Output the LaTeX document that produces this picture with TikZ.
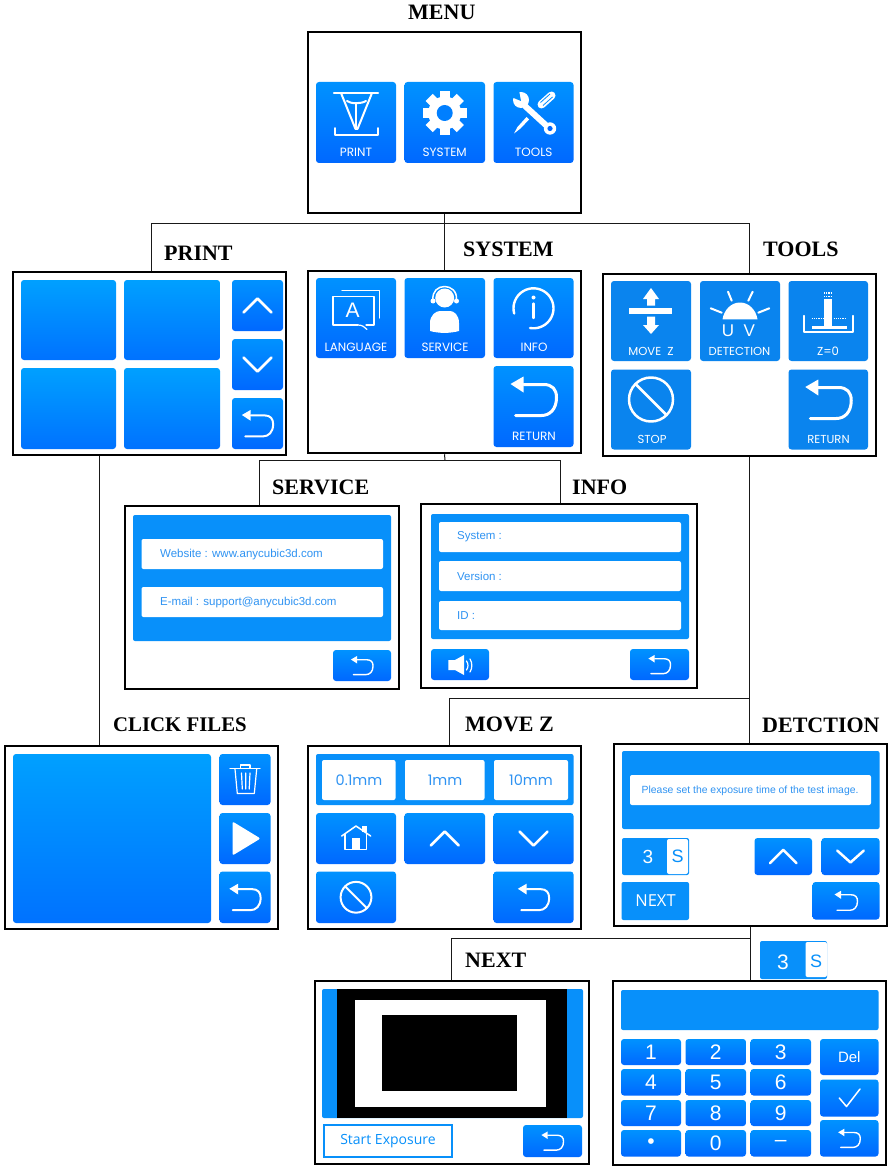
\documentclass[tikz,border=0pt]{standalone}
\usepackage{fontspec}
\setmainfont{Liberation Sans}
\newfontfamily\stepfont{Liberation Serif}
\newfontfamily\tapfont{Poppins}
\newfontfamily\winfont{Open Sans}

\definecolor{btntop}{HTML}{0092FF}
\definecolor{btnbot}{HTML}{0068FF}
\definecolor{bigtop}{HTML}{00A0FF}
\definecolor{bigbot}{HTML}{0072FF}
\definecolor{scrblue}{HTML}{0890FA}
\definecolor{toolblue}{HTML}{0A84EE}
\definecolor{fieldtxt}{HTML}{2F93F2}

\tikzset{
	screen/.style={rectangle,draw=black,line width=2.5pt,fill=white,inner sep=0pt},
	tapbtn/.style={rectangle,rounded corners=3pt,top color=btntop,bottom color=btnbot,inner sep=0pt},
	bigbtn/.style={tapbtn,top color=bigtop,bottom color=bigbot},
	toolbtn/.style={rectangle,rounded corners=3pt,fill=toolblue,inner sep=0pt},
	bluebar/.style={rectangle,rounded corners=2pt,fill=scrblue,inner sep=0pt},
	whitebar/.style={rectangle,rounded corners=2pt,fill=white,inner sep=0pt},
	keybtn/.style={tapbtn,text=white,font=\fontsize{21}{21}\selectfont},
	steplabel/.style={anchor=west,inner sep=0pt,font=\stepfont\bfseries\fontsize{22}{24}\selectfont},
	taplabel/.style={inner sep=0pt,text=white,font=\tapfont\fontsize{12}{12}\selectfont},
	toollabel/.style={taplabel,font=\tapfont\fontsize{11.6}{12}\selectfont},
	fieldlabel/.style={anchor=west,inner sep=0pt,text=fieldtxt,font=\fontsize{11.5}{12}\selectfont},
	mmlabel/.style={inner sep=0pt,text=fieldtxt,font=\tapfont\fontsize{14.5}{15}\selectfont},
	conn/.style={line width=1pt,draw=black!90},
	iconline/.style={draw=white,line width=#1,line cap=round,line join=round},
	pics/backarrow/.style={code={
		\fill[white] (-23,-12.5) -- (-10,-20) -- (-10,-4) -- cycle;
		\draw[iconline=#1] (-10,-12) -- (10,-12) .. controls (19,-12) and (23,-7) .. (23,1)
			.. controls (23,13) and (16,19) .. (8,19) -- (-18,19);
	}},
	pics/chevron/.style={code={
		\draw[iconline=2.5pt] (-14,7) -- (0,-7) -- (14,7);
	}},
	pics/stopsign/.style={code={
		\draw[iconline=#1] (0,0) circle[radius=22];
		\draw[iconline=#1] (-15.5,-15.5) -- (15.5,15.5);
	}},
}

% style, name, left, top, right, bottom, text
\newcommand{\scrbox}[7]{%
	\pgfmathsetmacro{\scrw}{#5-#3}%
	\pgfmathsetmacro{\scrh}{#6-#4}%
	\node[#1,minimum width=\scrw pt,minimum height=\scrh pt] (#2) at ({(#3+#5)/2},{(#4+#6)/2}) {#7};%
}

\begin{document}
\begin{tikzpicture}[x=1pt,y=-1pt]
	\path[use as bounding box,fill=white] (0,0) rectangle (891,1169);

	% screens
	\scrbox{screen}{menu}{308}{32}{581}{213}{}
	\scrbox{screen}{print}{13}{272}{286}{455}{}
	\scrbox{screen}{system}{308}{271}{581}{453}{}
	\scrbox{screen}{tools}{603}{274}{876}{456}{}
	\scrbox{screen}{service}{125}{506}{399}{689}{}
	\scrbox{screen}{info}{421}{504}{697}{688}{}
	\scrbox{screen}{files}{5}{746}{278}{929}{}
	\scrbox{screen}{movez}{308}{746}{581}{929}{}
	\scrbox{screen}{detect}{614}{744}{887}{926}{}
	\scrbox{screen}{next}{315}{981}{589}{1164}{}
	\scrbox{screen}{keypad}{613}{981}{886}{1165}{}

	% connectors
	\coordinate (menusplit) at (445,223);
	\coordinate (infosplit) at (445,460);
	\coordinate (zsplit) at (749,698);
	\coordinate (nextsplit) at (750,938);
	\draw[conn] (menu.south) -- (system.north);
	\draw[conn] (menusplit) -| ([xshift=1.5pt]print.north);
	\draw[conn] (menusplit) -| ([xshift=9.5pt]tools.north);
	\draw[conn] (system.south) -- (infosplit);
	\draw[conn] (infosplit) -| ([xshift=-3pt]service.north);
	\draw[conn] (infosplit) -| ([xshift=1pt]info.north);
	\draw[conn] ([xshift=-50.5pt]print.south) -- ([xshift=-42.5pt]files.north);
	\draw[conn] ([xshift=9.5pt]tools.south) -- ([xshift=-1.5pt]detect.north);
	\draw[conn] (zsplit) -| ([xshift=4.5pt]movez.north);
	\draw[conn] (detect.south) -- ([xshift=1pt]keypad.north);
	\draw[conn] (nextsplit) -| ([xshift=-1pt]next.north);

	% titles
	\node[steplabel] (menutitle) at (408,12) {MENU};
	\node[steplabel] (printtitle) at (164,253) {PRINT};
	\node[steplabel] (systemtitle) at (463,249) {SYSTEM};
	\node[steplabel] (toolstitle) at (763,249) {TOOLS};
	\node[steplabel] (servicetitle) at (272,487) {SERVICE};
	\node[steplabel] (infotitle) at (572,487) {INFO};
	\node[steplabel,font=\stepfont\bfseries\fontsize{20.8}{24}\selectfont] (filestitle) at (113,725) {CLICK FILES};
	\node[steplabel] (movetitle) at (465,724) {MOVE Z};
	\node[steplabel] (detecttitle) at (762,725) {DETCTION};
	\node[steplabel] (nexttitle) at (465,960) {NEXT};

	% MENU
	\scrbox{tapbtn}{menuprint}{316}{82}{396}{163}{}
	\scrbox{tapbtn}{menusys}{404.5}{82}{485}{163}{}
	\scrbox{tapbtn}{menutools}{493.5}{82}{573.5}{163}{}
	\node[taplabel] (menuprinttxt) at (356,152.5) {PRINT};
	\node[taplabel] (menusystxt) at (444.7,152.5) {SYSTEM};
	\node[taplabel] (menutoolstxt) at (533.7,152.5) {TOOLS};
	\draw[iconline=2.5pt] (334,93) -- (378,93);
	\draw[iconline=2pt] (341,93) -- (355.5,129) -- (357.5,129) -- (372,93);
	\draw[iconline=2pt] (347,101) .. controls (351,104) and (361,104) .. (366,101);
	\draw[iconline=1.5pt] (356,104) -- (356,129);
	\draw[iconline=1.7pt] (335,128) -- (335,135) -- (378,135) -- (378,128);
	\foreach \a in {0,45,...,315}
		\fill[white,rotate around={\a:(444.7,113)}] (439.7,91) rectangle (449.7,102);
	\fill[white] (444.7,113) circle[radius=16.5];
	\fill[btntop!55!btnbot] (444.7,113) circle[radius=8];
	\draw[iconline=6pt] (525,106) -- (549,128);
	\fill[white] (521,100) circle[radius=8];
	\fill[btntop!85!btnbot] (521,101) -- (510,96.5) -- (510,88) -- (518.5,88) -- cycle;
	\fill[white] (550,128.5) circle[radius=6.2];
	\fill[btnbot] (550,128.5) circle[radius=2.6];
	\draw[iconline=8pt] (541.5,104.5) -- (551.5,95.5);
	\draw[draw=btntop!85!btnbot,line width=.8pt] (540.5,102.5) -- (550,94) (543,105.5) -- (552.5,97);
	\fill[white] (526.5,117) -- (529,119.5) -- (520.5,128.5) -- (514,133.5) -- (517.5,127) -- cycle;

	% PRINT
	\scrbox{bigbtn}{file1}{21}{280}{116}{360}{}
	\scrbox{bigbtn}{file2}{124}{280}{220}{360}{}
	\scrbox{bigbtn}{file3}{21}{368}{116}{449}{}
	\scrbox{bigbtn}{file4}{124}{368}{220}{449}{}
	\scrbox{tapbtn}{printup}{232}{280}{283}{331}{}
	\scrbox{tapbtn}{printdown}{232}{339}{283}{390}{}
	\scrbox{tapbtn}{printback}{232}{398}{283}{449}{}
	\pic at (printup) {chevron};
	\pic[yscale=-1] at (printdown) {chevron};
	\pic[scale=.68] at (printback) {backarrow=2pt};

	% SYSTEM
	\scrbox{tapbtn}{syslang}{316}{278}{396}{358}{}
	\scrbox{tapbtn}{sysserv}{404.5}{278}{485}{358}{}
	\scrbox{tapbtn}{sysinfo}{493.5}{278}{573.5}{358}{}
	\scrbox{tapbtn}{sysback}{493.5}{366}{573.5}{447}{}
	\node[taplabel] (syslangtxt) at (356,347.5) {LANGUAGE};
	\node[taplabel] (sysservtxt) at (445,347.5) {SERVICE};
	\node[taplabel] (sysinfotxt) at (534,347.5) {INFO};
	\node[taplabel] (sysbacktxt) at (534,436) {RETURN};
	\draw[iconline=1.2pt] (358,325) -- (333,325) -- (333,296.7) -- (374,296.7) -- (374,325) -- (366,325);
	\draw[iconline=1.2pt] (358,325) .. controls (362,325) and (365,327) .. (367,329.5);
	\draw[iconline=1.2pt] (342,290.7) -- (379.3,290.7) -- (379.3,318);
	\node[inner sep=0pt,text=white,font=\fontsize{21}{21}\selectfont] (langA) at (352.7,310.7) {A};
	\fill[white] (444.7,298) circle[radius=9.5];
	\draw[iconline=1.5pt] (433,300) .. controls (431,282) and (458,282) .. (456.5,300);
	\fill[white] (433,301) circle[radius=2.5] (456.5,301) circle[radius=2.5];
	\fill[white] (430,331) -- (430,323) .. controls (430,315) and (436,311) .. (440,311) -- (450,311)
		.. controls (454,311) and (459,315) .. (459,323) -- (459,331) .. controls (450,333.5) and (439,333.5) .. (430,331) -- cycle;
	\draw[iconline=2.4pt] plot[smooth,samples=40,domain=165:460] ({533.5+20*cos(\x)},{308.3+20*sin(\x)});
	\fill[white] (533.5,297.5) circle[radius=2];
	\draw[iconline=2.4pt] (533.5,303.5) -- (533.5,318);
	\pic at ([yshift=10pt]sysback) {backarrow=3pt};

	% TOOLS
	\scrbox{toolbtn}{toolmove}{611}{281}{691}{361}{}
	\scrbox{toolbtn}{tooluv}{700}{281}{780}{361}{}
	\scrbox{toolbtn}{toolzero}{788.5}{281}{868}{361}{}
	\scrbox{toolbtn}{toolstop}{611}{369.5}{691}{449.5}{}
	\scrbox{toolbtn}{toolback}{788.5}{369.5}{868}{449.5}{}
	\node[toollabel] (toolmovetxt) at (651,351) {MOVE\ \ Z};
	\node[toollabel] (tooluvtxt) at (739.5,351) {DETECTION};
	\node[toollabel] (toolzerotxt) at (828,351) {Z=0};
	\node[toollabel] (toolstoptxt) at (652,439) {STOP};
	\node[toollabel] (toolbacktxt) at (828.5,439) {RETURN};
	\fill[white] (629,308) rectangle (672,314);
	\fill[white] (651,288) -- (659,299) -- (655,299) -- (655,305.5) -- (647,305.5) -- (647,299) -- (643,299) -- cycle;
	\fill[white] (651,334) -- (659,325) -- (655,325) -- (655,316.5) -- (647,316.5) -- (647,325) -- (643,325) -- cycle;
	\fill[white] (722.5,319.3) .. controls (724,310) and (731,302.5) .. (740,302.5) .. controls (749,302.5) and (756,310) .. (757.5,319.3) -- cycle;
	\draw[iconline=2pt] (728,291.7) -- (731.7,300.7) (752.7,291.7) -- (748.3,300.7);
	\draw[iconline=2pt] (710.7,308.3) -- (721.7,312.7) (769.3,308.3) -- (758.3,312.7);
	\node[inner sep=0pt,text=white,font=\fontsize{17}{17}\selectfont] (uvtxt) at (738.5,330.5) {U\ \ V};
	\draw[iconline=1.7pt] (804.3,315.7) -- (804.3,331.7) -- (852.7,331.7) -- (852.7,315.7);
	\fill[white] (811.7,326) rectangle (846.7,329.3);
	\fill[white] (824,299.3) rectangle (832.3,326.7);
	\draw[white,line width=1.2pt,densely dotted] (811.7,318.5) -- (823,318.5) (833.5,318.5) -- (846.7,318.5);
	\draw[white,line width=1.2pt,densely dotted] (824,293) -- (832.3,293) (824,296.5) -- (832.3,296.5);
	\pic at ([yshift=10pt]toolstop) {stopsign=2.5pt};
	\pic at ([yshift=10pt]toolback) {backarrow=3pt};

	% SERVICE
	\scrbox{bluebar}{servbar}{133}{515}{391}{641}{}
	\scrbox{whitebar}{webfield}{141.5}{539}{383}{569}{}
	\scrbox{whitebar}{mailfield}{141.5}{587}{383}{617}{}
	\node[fieldlabel] (webtxt) at (160,554.5) {Website : www.anycubic3d.com};
	\node[fieldlabel] (mailtxt) at (160,602.5) {E-mail : support@anycubic3d.com};
	\scrbox{tapbtn}{servback}{333}{650}{391}{681}{}
	\pic[scale=.48] at (servback) {backarrow=1.4pt};

	% INFO
	\scrbox{bluebar}{infobar}{431}{514}{689}{639}{}
	\scrbox{whitebar}{sysfield}{439}{522}{681}{552}{}
	\scrbox{whitebar}{verfield}{439}{561}{681}{591}{}
	\scrbox{whitebar}{idfield}{439}{601}{681}{630}{}
	\node[fieldlabel] (systxt) at (457,537) {System :};
	\node[fieldlabel] (vertxt) at (457,576.5) {Version :};
	\node[fieldlabel] (idtxt) at (457,616) {ID :};
	\scrbox{tapbtn}{infosound}{431}{649}{489}{680}{}
	\scrbox{tapbtn}{infoback}{630}{649}{689}{680}{}
	\fill[white] (448.3,660) -- (455,660) -- (464,655) -- (464,675) -- (455,670) -- (448.3,670) -- cycle;
	\draw[iconline=1.2pt] (466.5,661) .. controls (468.5,664) and (468.5,667) .. (466.5,670);
	\draw[iconline=1.2pt] (470,659) .. controls (472.5,663) and (472.5,668) .. (470,672);
	\pic[scale=.48] at (infoback) {backarrow=1.4pt};

	% CLICK FILES
	\scrbox{bigbtn}{filepreview}{13}{754}{211}{923}{}
	\scrbox{tapbtn}{filedel}{219.5}{754}{270.5}{805}{}
	\scrbox{tapbtn}{fileplay}{219.5}{813}{270.5}{864}{}
	\scrbox{tapbtn}{fileback}{219.5}{871.5}{270.5}{923}{}
	\draw[iconline=1.2pt] (230,768.3) -- (260,768.3);
	\draw[iconline=1.2pt] (240.7,768) -- (240.7,765) -- (250,765) -- (250,768);
	\draw[iconline=1.2pt] (235,769) -- (237.3,793.5) -- (254.3,793.5) -- (256.7,769);
	\draw[iconline=1.2pt] (241.5,773) -- (242.3,789) (245.7,773) -- (245.7,789) (250,773) -- (249.2,789);
	\fill[white,rounded corners=2pt] (232.5,821.5) -- (260.5,838.5) -- (232.5,855.5) -- cycle;
	\pic[scale=.68] at (fileback) {backarrow=2pt};

	% MOVE Z
	\scrbox{bluebar}{stepbar}{316}{754}{573.5}{805}{}
	\scrbox{whitebar}{stepa}{322}{760}{395.5}{800}{}
	\scrbox{whitebar}{stepb}{405}{760}{484.5}{800}{}
	\scrbox{whitebar}{stepc}{494}{760}{568}{800}{}
	\node[mmlabel] (stepatxt) at (359,780) {0.1mm};
	\node[mmlabel] (stepbtxt) at (445,780) {1mm};
	\node[mmlabel] (stepctxt) at (531,780) {10mm};
	\scrbox{tapbtn}{movehome}{316}{813}{396}{864}{}
	\scrbox{tapbtn}{moveup}{404.5}{813}{485}{864}{}
	\scrbox{tapbtn}{movedown}{493.5}{813}{573.5}{864}{}
	\scrbox{tapbtn}{movestop}{316}{871.5}{396}{923}{}
	\scrbox{tapbtn}{moveback}{493.5}{871.5}{573.5}{923}{}
	\draw[iconline=1.5pt] (341.7,836) -- (356,826) -- (370.7,836);
	\draw[iconline=1.5pt] (345,834.3) -- (345,849.3) -- (366.7,849.3) -- (366.7,834.3);
	\fill[white] (352.3,838.3) rectangle (360,849.3);
	\fill[white] (361.7,826) rectangle (366.7,832);
	\pic at (moveup) {chevron};
	\pic[yscale=-1] at (movedown) {chevron};
	\pic[scale=.7] at (movestop) {stopsign=2pt};
	\pic[scale=.68] at (moveback) {backarrow=2pt};

	% DETCTION
	\scrbox{bluebar}{detbar}{622}{751}{879.5}{829}{}
	\scrbox{whitebar}{detfield}{630}{775}{871}{805}{}
	\node[fieldlabel,font=\fontsize{10.4}{11}\selectfont] (dettxt) at (641.5,790.5) {Please set the exposure time of the test image.};
	\scrbox{bluebar}{dettime}{622}{838}{689}{875}{}
	\scrbox{whitebar}{detunit}{667}{839}{688}{874}{}
	\node[inner sep=0pt,text=white,font=\fontsize{19}{19}\selectfont] (dettimetxt) at (648,857) {3};
	\node[inner sep=0pt,text=scrblue,font=\fontsize{18}{18}\selectfont] (detunittxt) at (677.5,856.5) {S};
	\scrbox{tapbtn}{detup}{754.5}{838}{812}{875}{}
	\scrbox{tapbtn}{detdown}{821.5}{838}{879.5}{875}{}
	\pic[scale=.95] at (detup) {chevron};
	\pic[yscale=-.85,xscale=.95] at (detdown) {chevron};
	\scrbox{bluebar}{detnext}{621.5}{882}{689}{920}{}
	\node[inner sep=0pt,text=white,font=\winfont\fontsize{16.5}{17}\selectfont] (detnexttxt) at (655.5,900.5) {NEXT};
	\scrbox{tapbtn}{detback}{812.5}{882}{879.5}{919.5}{}
	\pic[scale=.5] at (detback) {backarrow=1.4pt};

	% time chip
	\scrbox{bluebar}{chip}{760}{941}{827}{979}{}
	\scrbox{whitebar}{chipunit}{805.5}{942}{827}{977}{}
	\node[inner sep=0pt,text=white,font=\fontsize{21}{21}\selectfont] (chiptxt) at (783,962) {3};
	\node[inner sep=0pt,text=scrblue,font=\fontsize{18}{18}\selectfont] (chipunittxt) at (816,961) {S};

	% NEXT
	\scrbox{bluebar}{testbar}{322}{989}{583}{1118}{}
	\fill[black] (337,989) rectangle (567,1118);
	\fill[white] (355,999.5) rectangle (546,1106.5);
	\fill[black] (381.5,1015) rectangle (517,1091);
	\node[rectangle,draw=scrblue,line width=1.7pt,inner sep=0pt,minimum width=128pt,minimum height=31.5pt,text=scrblue,font=\winfont\fontsize{14}{15}\selectfont] (testrun) at (388,1141) {\raisebox{-2pt}{Start Exposure}};
	\scrbox{tapbtn}{testback}{523}{1125}{582}{1157}{}
	\pic[scale=.48] at (testback) {backarrow=1.4pt};

	% keypad
	\scrbox{bluebar}{padbar}{621}{990}{878.5}{1030}{}
	\foreach \nm/\xa/\xb/\ya/\yb/\txt in {
		k1/621/681/1039/1065/1,k2/685.5/746/1039/1065/2,k3/750.5/811/1039/1065/3,
		k4/621/681/1069/1095.5/4,k5/685.5/746/1069/1095.5/5,k6/750.5/811/1069/1095.5/6,
		k7/621/681/1100/1126/7,k8/685.5/746/1100/1126/8,k9/750.5/811/1100/1126/9,
		kdot/621/681/1130/1156.5/•,k0/685.5/746/1130/1156.5/0,kbar/750.5/811/1130/1156.5/–}
		{\scrbox{keybtn}{\nm}{\xa}{\ya}{\xb}{\yb}{\txt}}
	\scrbox{keybtn,font=\fontsize{15}{15}\selectfont}{kdel}{820}{1039}{878.5}{1075}{Del}
	\scrbox{tapbtn}{kok}{820}{1079.5}{878.5}{1116.5}{}
	\scrbox{tapbtn}{kback}{820}{1120}{878.5}{1156.5}{}
	\draw[iconline=1.5pt] (839.3,1098) -- (846.5,1106.5) -- (860,1089);
	\pic[scale=.48] at (kback) {backarrow=1.4pt};
\end{tikzpicture}
\end{document}
